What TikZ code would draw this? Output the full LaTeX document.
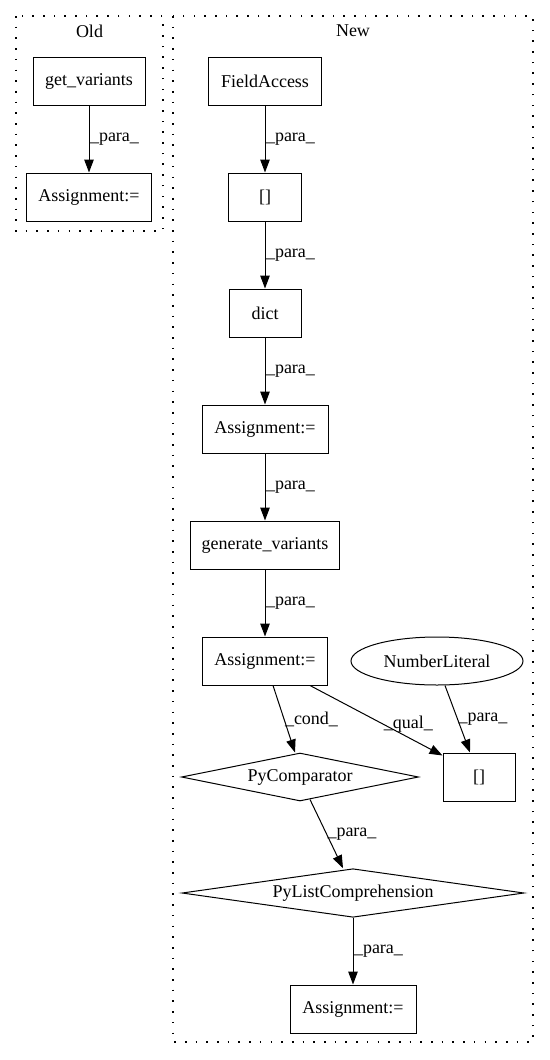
\documentclass[tikz,border=0pt]{standalone}
\usepackage{fontspec}
\setmainfont{Liberation Serif}
\usetikzlibrary{shapes.geometric,arrows.meta}

\begin{document}
\begin{tikzpicture}[x=1pt,y=-1pt,
	every node/.style={font=\fontsize{18}{20}\selectfont},
	box/.style={draw,rectangle,minimum height=48pt,inner sep=0pt,line width=1pt},
	choice/.style={draw,diamond,shape aspect=5,minimum height=48pt,inner sep=0pt,line width=1pt},
	lbl/.style={anchor=west,inner sep=0.5pt},
	flow/.style={draw,line width=1pt,-{Triangle[length=13pt,width=9.5pt]}},
	cluster/.style={draw,line width=1.1pt,dash pattern=on 1.6pt off 9.1pt}]
	\useasboundingbox (0,0) rectangle (549,1060);
			\draw[cluster] (16,16) rectangle (163,231);
			\draw[cluster] (173,16) rectangle (533,1042);
			\node (oldlbl) at (89.5,31) {Old};
			\node (newlbl) at (353,31) {New};
			\node[box, minimum width=112pt] (getvar) at (89,81) {get\_variants};
			\node[box, minimum width=125pt] (asg0) at (89,197) {Assignment:=};
			\node[box, minimum width=113pt] (field) at (265,81) {FieldAccess};
			\node[box, minimum width=73pt] (idx1) at (265,197) {[]};
			\node[box, minimum width=72pt] (dict) at (265,313) {dict};
			\node[box, minimum width=126pt] (asg1) at (265,429) {Assignment:=};
			\node[box, minimum width=149pt] (gen) at (265,545) {generate\_variants};
			\node[box, minimum width=125pt] (asg2) at (265,661) {Assignment:=};
			\node[draw, ellipse, line width=1pt, inner sep=0pt, minimum width=172pt, minimum height=48pt] (numlit) at (437,661) {NumberLiteral};
			\node[choice, minimum width=237pt] (cmp) at (300,777) {PyComparator};
			\node[box, minimum width=72pt] (idx2) at (479,777) {[]};
			\node[choice, minimum width=342pt] (plc) at (353,893) {PyListComprehension};
			\node[box, minimum width=126pt] (asg3) at (353,1009) {Assignment:=};
			\draw[flow] (getvar) -- node[lbl]{\_para\_} (asg0);
			\draw[flow] (field) -- node[lbl]{\_para\_} (idx1);
			\draw[flow] (idx1) -- node[lbl]{\_para\_} (dict);
			\draw[flow] (dict) -- node[lbl]{\_para\_} (asg1);
			\draw[flow] (asg1) -- node[lbl]{\_para\_} (gen);
			\draw[flow] (gen) -- node[lbl]{\_para\_} (asg2);
			\draw[flow] ([xshift=8pt]asg2.south) -- node[lbl]{\_cond\_} ([xshift=-5pt]cmp.north);
			\draw[flow] ([xshift=45pt]asg2.south) -- node[lbl, pos=0.55]{\_qual\_} ([yshift=-3pt]idx2.north west);
			\draw[flow] ([xshift=8pt]numlit.south) -- node[lbl]{\_para\_} ([xshift=-9pt]idx2.north);
			\draw[flow] ([xshift=10pt,yshift=2pt]cmp.south) -- node[lbl]{\_para\_} ([xshift=-10pt]plc.north);
			\draw[flow] (plc) -- node[lbl]{\_para\_} (asg3);
\end{tikzpicture}
\end{document}
